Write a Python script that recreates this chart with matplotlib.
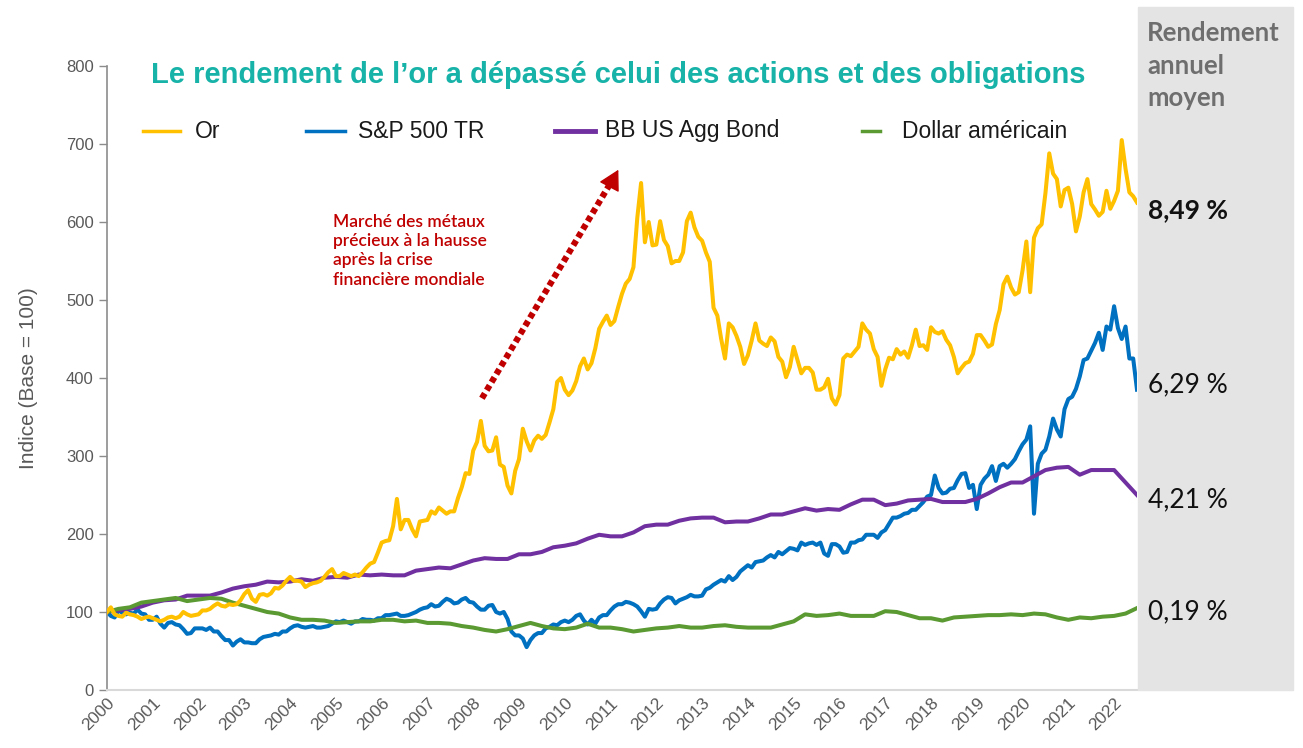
import matplotlib
matplotlib.use("Agg")
import matplotlib.pyplot as plt
import matplotlib.patches as mpatches
from matplotlib.lines import Line2D
import numpy as np

# ── Colours ──────────────────────────────────────────────────────────────────
GOLD   = "#FFC000"
SPX    = "#0070C0"
BOND   = "#7030A0"
USD    = "#5B9A33"
TEAL   = "#17B2A8"
RED    = "#C00000"
GREY   = "#595959"
PANEL  = "#E4E4E4"

# ── Data (index, base 100 = Jan 2000) ────────────────────────────────────────
# monthly, Jan 2000 -> Jun 2022
gold = [
    100, 106, 97, 95, 94, 99, 97, 96, 94, 91, 93, 94,
    92, 90, 88, 90, 93, 94, 92, 94, 100, 97, 95, 96,
    97, 102, 102, 104, 108, 111, 108, 107, 110, 109, 110, 115,
    123, 128, 117, 113, 122, 123, 121, 124, 131, 130, 134, 140,
    145, 140, 140, 139, 132, 135, 137, 138, 140, 145, 151, 155,
    146, 146, 150, 148, 146, 148, 146, 151, 157, 162, 164, 176,
    189, 191, 192, 210, 245, 206, 218, 218, 206, 197, 216, 217,
    218, 229, 226, 234, 230, 226, 229, 229, 246, 260, 278, 277,
    307, 318, 345, 313, 306, 307, 324, 289, 286, 262, 252, 281,
    296, 335, 319, 307, 320, 326, 322, 327, 343, 360, 395, 400,
    385, 378, 384, 396, 415, 425, 411, 419, 438, 463, 472, 480,
    468, 473, 491, 508, 521, 527, 542, 605, 650, 574, 600, 570,
    571, 601, 577, 569, 547, 550, 550, 561, 601, 612, 593, 581,
    576, 561, 549, 490, 480, 450, 425, 470, 465, 454, 440, 418,
    429, 448, 470, 448, 444, 441, 452, 447, 427, 421, 401, 414,
    440, 423, 406, 413, 413, 407, 385, 385, 388, 399, 374, 366,
    378, 425, 430, 428, 434, 440, 470, 462, 457, 437, 427, 390,
    411, 426, 424, 437, 430, 434, 426, 442, 462, 441, 442, 436,
    465, 459, 457, 460, 449, 442, 427, 406, 413, 419, 421, 431,
    455, 455, 448, 440, 443, 469, 487, 520, 530, 516, 507, 510,
    538, 575, 510, 580, 592, 597, 637, 688, 662, 655, 620, 641,
    644, 623, 588, 607, 638, 655, 623, 616, 608, 613, 640, 617,
    627, 640, 705, 668, 638, 633, 625,
]
sp500 = [
    100,
    95, 93, 102, 99, 97, 99, 98, 103, 98, 97, 90, 90,
    94, 85, 80, 86, 87, 84, 83, 78, 72, 73, 79, 79,
    79, 77, 80, 75, 75, 69, 64, 64, 57, 62, 65, 61,
    61, 60, 60, 65, 68, 69, 70, 72, 71, 75, 75, 79,
    82, 83, 81, 80, 81, 82, 80, 80, 81, 82, 85, 88,
    87, 89, 87, 85, 88, 88, 91, 90, 90, 89, 92, 92,
    96, 96, 97, 98, 95, 95, 96, 98, 100, 103, 105, 106,
    110, 107, 108, 113, 117, 115, 111, 112, 116, 118, 113, 112,
    107, 103, 103, 108, 109, 100, 98, 100, 91, 75, 70, 70,
    66, 55, 64, 70, 73, 73, 79, 81, 84, 83, 87, 89,
    87, 90, 95, 97, 89, 84, 90, 85, 93, 96, 96, 102,
    107, 110, 110, 113, 112, 110, 107, 101, 94, 104, 103, 104,
    111, 116, 119, 118, 111, 115, 117, 119, 122, 120, 120, 121,
    129, 131, 135, 138, 141, 139, 146, 141, 145, 152, 156, 160,
    157, 164, 165, 166, 170, 173, 170, 177, 174, 178, 182, 181,
    179, 189, 186, 188, 189, 186, 189, 175, 172, 187, 187, 184,
    176, 177, 189, 189, 192, 193, 199, 199, 199, 195, 202, 205,
    213, 221, 221, 223, 226, 227, 231, 231, 236, 241, 248, 250,
    275, 259, 252, 253, 258, 259, 269, 277, 278, 259, 263, 232,
    263, 271, 276, 287, 268, 287, 290, 285, 290, 296, 306, 315,
    321, 338, 226, 290, 303, 308, 325, 348, 334, 325, 360, 373,
    376, 386, 402, 423, 425, 435, 445, 458, 436, 466, 462, 492,
    464, 450, 466, 425, 425, 385,
]
# quarterly, Q0 2000 -> Q2 2022
bond = [
    100,
    102, 104, 107, 112,
    115, 116, 121, 121,
    121, 125, 130, 133,
    135, 139, 138, 139,
    142, 140, 144, 145,
    144, 148, 147, 148,
    147, 147, 153, 155,
    157, 156, 161, 166,
    169, 168, 168, 174,
    174, 177, 183, 185,
    188, 194, 199, 197,
    197, 202, 210, 212,
    212, 217, 220, 221,
    221, 215, 216, 216,
    220, 225, 225, 229,
    233, 230, 232, 231,
    238, 244, 244, 237,
    239, 243, 244, 245,
    241, 241, 241, 245,
    252, 260, 266, 266,
    274, 282, 285, 286,
    276, 282, 282, 282,
    266, 250,
]
dollar = [
    100,
    104, 106, 112, 114,
    116, 118, 114, 116,
    118, 117, 112, 108,
    104, 100, 98, 93,
    90, 90, 89, 86,
    87, 88, 88, 90,
    90, 88, 89, 86,
    86, 85, 82, 80,
    77, 75, 78, 82,
    86, 82, 79, 78,
    80, 85, 80, 80,
    78, 75, 77, 79,
    80, 82, 80, 80,
    82, 83, 81, 80,
    80, 80, 84, 88,
    97, 95, 96, 98,
    95, 95, 95, 101,
    100, 96, 92, 92,
    89, 93, 94, 95,
    96, 96, 97, 96,
    98, 97, 93, 90,
    93, 92, 94, 95,
    98, 105,
]
years = list(range(2000, 2023))
returns = ["8,49 %", "6,29 %", "4,21 %", "0,19 %"]
legend_labels = ["Or", "S&P 500 TR", "BB US Agg Bond", "Dollar américain"]

x_m = 2000 + np.arange(len(sp500)) / 12
x_g = 2000 + np.arange(len(gold)) / 12
x_q = 2000 + np.arange(len(bond)) / 4

plt.rcParams["font.family"] = ["Liberation Sans", "DejaVu Sans"]

W, H = 1303, 748
fig = plt.figure(figsize=(W / 100, H / 100), dpi=100)
fig.patch.set_facecolor("white")

# grey side panel
fig.patches.append(mpatches.Rectangle((1138 / W, 58 / H), 155 / W, 683 / H,
                                      transform=fig.transFigure, color=PANEL,
                                      zorder=0))

ax = fig.add_axes([107 / W, 58 / H, 1030 / W, 624 / H])
ax.set_facecolor("none")

LW = 2.9
ax.plot(x_m, sp500, color=SPX, lw=LW, zorder=2, solid_joinstyle="round")
ax.plot(x_q, bond, color=BOND, lw=LW, zorder=3)
ax.plot(x_q, dollar, color=USD, lw=LW, zorder=4)
ax.plot(x_g, gold, color=GOLD, lw=LW, zorder=5, solid_joinstyle="round")

ax.set_xlim(2000, 2022.5)
ax.set_ylim(0, 800)
ax.set_yticks(range(0, 801, 100))
ax.set_xticks(years)
ax.set_xticklabels([str(y) for y in years], rotation=45, ha="right",
                   rotation_mode="anchor", fontsize=12.5, color=GREY)
ax.tick_params(axis="y", labelsize=12, labelcolor=GREY, color="#8C8C8C",
               length=6, width=1)
ax.tick_params(axis="x", length=0, pad=4)
for s in ["top", "right"]:
    ax.spines[s].set_visible(False)
ax.spines["left"].set_color("#8C8C8C")
ax.spines["left"].set_linewidth(1.2)
ax.spines["bottom"].set_color("#D9D9D9")
ax.spines["bottom"].set_linewidth(1.5)
ax.set_ylabel("Indice (Base = 100)", fontsize=15, color=GREY, labelpad=20)

# dotted arrow (annotation)
ax.plot([2008.19, 2010.98], [374, 648], color=RED, lw=4.5,
        linestyle=(0, (0.9, 0.6)), solid_capstyle="butt", zorder=6)
ax.annotate("", xy=(2011.17, 667), xytext=(2010.98, 646),
            arrowprops=dict(arrowstyle="-|>,head_length=0.9,head_width=0.5",
                            mutation_scale=14, color=RED, lw=1,
                            shrinkA=0, shrinkB=0), zorder=6)
fig.text(333 / W, 1 - 214 / H,
         "Marché des métaux\nprécieux à la hausse\naprès la crise\nfinancière mondiale",
         color=RED, fontsize=12.5, family=["Lato", "DejaVu Sans"],
         fontweight="semibold", ha="left", va="top", linespacing=1.25)

# title
fig.text(618 / W, 1 - 75 / H,
         "Le rendement de l’or a dépassé celui des actions et des obligations",
         color=TEAL, fontsize=21, fontweight="bold", ha="center", va="center")

# legend
leg_pos = [(143, 180, 195), (306, 345, 358), (555, 595, 605), (862, 880, 902)]
for (x0, x1, xt), col, lab in zip(leg_pos, [GOLD, SPX, BOND, USD], legend_labels):
    fig.add_artist(Line2D([x0 / W, x1 / W], [1 - 131 / H, 1 - 131 / H],
                          transform=fig.transFigure, color=col,
                          lw=3.5 if col == BOND else 2.5))
    fig.text(xt / W, 1 - 131 / H, lab, fontsize=16.5, color="#1a1a1a",
             ha="left", va="center")

# side panel text
for txt, yb in zip(["Rendement", "annuel", "moyen"], [41, 74, 106]):
    fig.text(1147 / W, 1 - yb / H, txt, family=["Lato", "DejaVu Sans"],
             fontsize=18.5, fontweight="bold", color="#6E6E6E", ha="left",
             va="baseline")
ret_y = [210, 385, 500, 612]
for i, (txt, yy) in enumerate(zip(returns, ret_y)):
    fig.text(1148 / W, 1 - yy / H, txt, family=["Lato", "DejaVu Sans"],
             fontsize=19, fontweight="bold" if i == 0 else "normal",
             color="#111111", ha="left", va="center")

fig.savefig("out.png", dpi=100, facecolor="white")
